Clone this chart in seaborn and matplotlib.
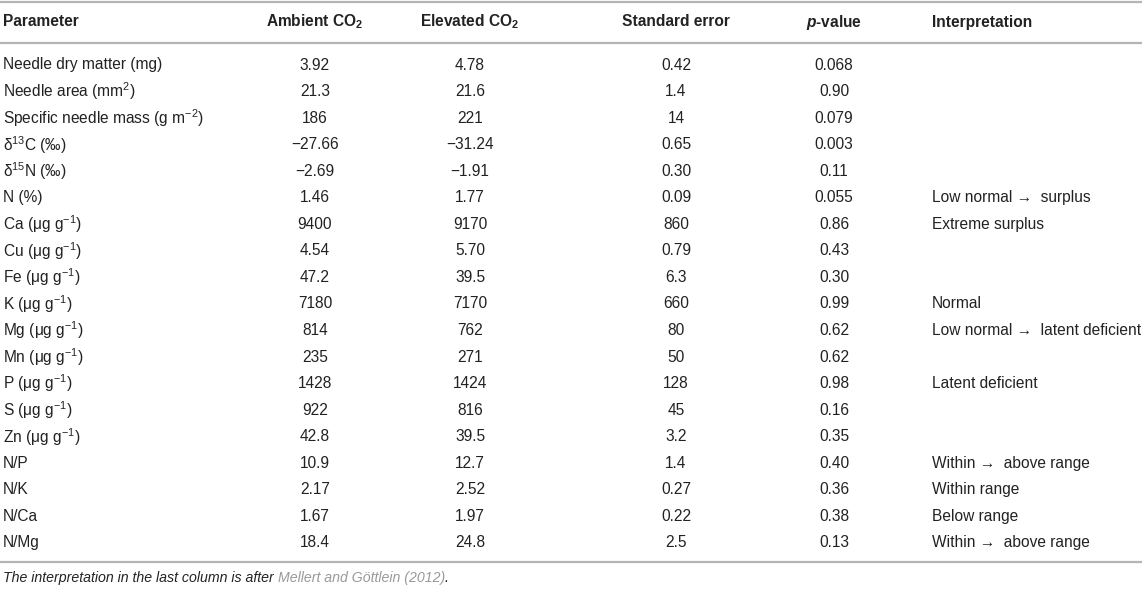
import seaborn as sns
import matplotlib.pyplot as plt

# Dados da tabela
parametros = [
    "Needle dry matter (mg)",
    "Needle area (mm$^{2}$)",
    "Specific needle mass (g m$^{-2}$)",
    "δ$^{13}$C (‰)",
    "δ$^{15}$N (‰)",
    "N (%)",
    "Ca (μg g$^{-1}$)",
    "Cu (μg g$^{-1}$)",
    "Fe (μg g$^{-1}$)",
    "K (μg g$^{-1}$)",
    "Mg (μg g$^{-1}$)",
    "Mn (μg g$^{-1}$)",
    "P (μg g$^{-1}$)",
    "S (μg g$^{-1}$)",
    "Zn (μg g$^{-1}$)",
    "N/P",
    "N/K",
    "N/Ca",
    "N/Mg",
]
ambiente = ["3.92", "21.3", "186", "−27.66", "−2.69", "1.46", "9400", "4.54", "47.2",
            "7180", "814", "235", "1428", "922", "42.8", "10.9", "2.17", "1.67", "18.4"]
elevado = ["4.78", "21.6", "221", "−31.24", "−1.91", "1.77", "9170", "5.70", "39.5",
           "7170", "762", "271", "1424", "816", "39.5", "12.7", "2.52", "1.97", "24.8"]
erro_padrao = ["0.42", "1.4", "14", "0.65", "0.30", "0.09", "860", "0.79", "6.3",
               "660", "80", "50", "128", "45", "3.2", "1.4", "0.27", "0.22", "2.5"]
p_valor = ["0.068", "0.90", "0.079", "0.003", "0.11", "0.055", "0.86", "0.43", "0.30",
           "0.99", "0.62", "0.62", "0.98", "0.16", "0.35", "0.40", "0.36", "0.38", "0.13"]
interpretacao = ["", "", "", "", "", "Low normal →  surplus", "Extreme surplus", "", "",
                 "Normal", "Low normal →  latent deficient", "", "Latent deficient", "", "",
                 "Within →  above range", "Within range", "Below range", "Within →  above range"]

cabecalhos = ["Parameter", r"Ambient CO$_{\mathbf{2}}$", r"Elevated CO$_{\mathbf{2}}$",
              "Standard error", r"$\mathbfit{p}$-value", "Interpretation"]
nota = "The interpretation in the last column is after "
nota_ref = "Mellert and Göttlein (2012)"

sns.set_theme(style="white")
plt.rcParams['font.family'] = ['Liberation Sans', 'DejaVu Sans']
plt.rcParams['mathtext.fontset'] = 'custom'
plt.rcParams['mathtext.rm'] = 'Liberation Sans'
plt.rcParams['mathtext.it'] = 'Liberation Sans:italic'
plt.rcParams['mathtext.bf'] = 'Liberation Sans:bold'
plt.rcParams['mathtext.bfit'] = 'Liberation Sans:italic:bold'

cor_texto = "#222222"
cor_linha = "#b4b4b4"
tam = 11.2

fig = plt.figure(figsize=(11.42, 5.90), dpi=100)
ax = fig.add_axes([0, 0, 1, 1])
ax.set_xlim(0, 1142)
ax.set_ylim(590, 0)
ax.axis("off")

# posições das colunas (x) e alinhamento
colunas_x = [3, 315, 470, 676, 834, 932]
alinh = ["left", "center", "center", "center", "center", "left"]

# cabeçalho
y_cab = 22
for x, h, a in zip(colunas_x, cabecalhos, alinh):
    ax.text(x, y_cab, h, ha=a, va="center", fontsize=tam, fontweight="bold", color=cor_texto)

# linhas
y0, passo = 65, 26.55
for i, linha in enumerate(zip(parametros, ambiente, elevado, erro_padrao, p_valor, interpretacao)):
    y = y0 + i * passo
    for x, valor, a in zip(colunas_x, linha, alinh):
        ax.text(x, y, valor, ha=a, va="center", fontsize=tam, color=cor_texto)

for yl in [2, 43, 562]:
    ax.axhline(yl, color=cor_linha, lw=1.6)

# nota de rodapé
t = ax.text(3, 578, nota, ha="left", va="center", fontsize=tam - 1.0, style="italic", color=cor_texto)
fig.canvas.draw()
bb = t.get_window_extent().transformed(ax.transData.inverted())
t2 = ax.text(bb.x1, 578, nota_ref, ha="left", va="center", fontsize=tam - 1.0, style="italic", color="#9a9a9a")
bb2 = t2.get_window_extent().transformed(ax.transData.inverted())
ax.text(bb2.x1, 578, ".", ha="left", va="center", fontsize=tam - 1.0, style="italic", color=cor_texto)

plt.savefig("out.png", dpi=100)
